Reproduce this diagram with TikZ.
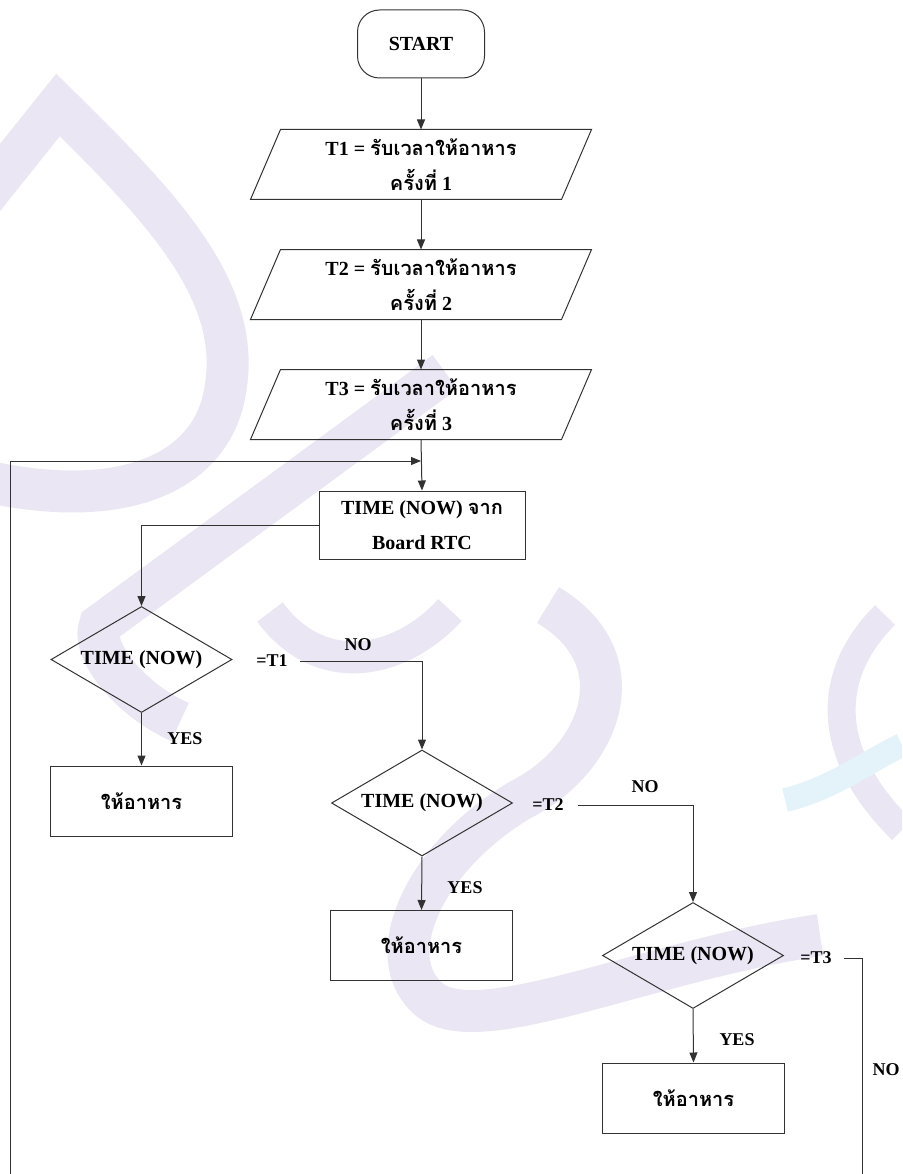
\documentclass[tikz,border=0pt]{standalone}
\usepackage{fontspec}
\setmainfont{Liberation Serif}
\newfontfamily\thai[Script=Thai]{Loma}
\usetikzlibrary{shapes.geometric,arrows.meta}
\definecolor{wmark}{RGB}{234,230,243}
\definecolor{wblue}{RGB}{228,243,250}
\definecolor{ink}{RGB}{50,50,50}
\begin{document}
\begin{tikzpicture}[x=1pt,y=-1pt,
  ln/.style={draw=ink, line width=1pt},
  base/.style={ln, align=center, inner sep=0pt, text=black, font=\bfseries\fontsize{20}{35}\selectfont},
  term/.style={base, rounded corners=22pt, minimum width=127pt, minimum height=68pt},
  iobox/.style={base, draw=none, minimum width=340pt, minimum height=69pt},
  proc/.style={base, rectangle, minimum width=182pt, minimum height=70pt},
  dec/.style={base, diamond, shape aspect=1.7, minimum width=181pt, minimum height=106pt},
  conn/.style={ln, -{Triangle[length=10pt,width=8pt]}},
  lbl/.style={font=\bfseries\fontsize{18}{20}\selectfont, inner sep=0pt},
  wm/.style={draw=wmark, line width=42pt, line cap=butt}
]
\useasboundingbox (0,0) rectangle (902,1174);
\begin{scope}
\clip (0,0) rectangle (902,1174);
% watermark (approximate)
\draw[wm, line join=miter] (-30,215) -- (58,105) .. controls (170,215) and (250,300) .. (222,405) .. controls (200,480) and (110,510) .. (-20,480);
\draw[wm] (445,372) -- (100,625) .. controls (90,650) and (130,700) .. (180,722);
\draw[wm, line width=32pt] (270,612) .. controls (320,680) and (400,665) .. (450,610);
\draw[wm] (548,605) .. controls (640,660) and (600,760) .. (520,800) .. controls (420,860) and (380,960) .. (430,1000) .. controls (480,1040) and (650,960) .. (820,935);
\draw[wm, line width=28pt] (885,615) .. controls (820,680) and (830,760) .. (902,830);
\draw[draw=wblue, line width=24pt] (785,800) .. controls (830,790) and (870,760) .. (902,745);
\end{scope}

% nodes
\node[term] (start) at (421,44) {START};
\node[iobox] (p1) at (421,164.5) {T1 = {\thai รับเวลาให้อาหาร}\\{\thai ครั้งที่} 1};
\node[iobox] (p2) at (421,284.5) {T2 = {\thai รับเวลาให้อาหาร}\\{\thai ครั้งที่} 2};
\node[iobox] (p3) at (421,404.5) {T3 = {\thai รับเวลาให้อาหาร}\\{\thai ครั้งที่} 3};
\foreach \n in {p1,p2,p3}
  \draw[ln] (\n.south west) -- ([xshift=30pt]\n.north west) -- (\n.north east) -- ([xshift=-30pt]\n.south east) -- cycle;
\node[proc, minimum width=206pt, minimum height=68pt] (tb) at (422,525) {TIME (NOW) {\thai จาก}\\Board RTC};
\node[dec] (d1) at (141.5,659.5) {TIME (NOW)};
\node[proc] (r1) at (141.5,801) {\thai ให้อาหาร};
\node[dec] (d2) at (422,803) {TIME (NOW)};
\node[proc] (r2) at (421.5,945.5) {\thai ให้อาหาร};
\node[dec] (d3) at (693,955.5) {TIME (NOW)};
\node[proc] (r3) at (693.5,1098) {\thai ให้อาหาร};

% labels
\node[lbl] (e1) at (272,661) {=T1};
\node[lbl] (n1) at (358,645) {NO};
\node[lbl] (y1) at (185,739) {YES};
\node[lbl] (e2) at (548,805) {=T2};
\node[lbl] (n2) at (645,787) {NO};
\node[lbl] (y2) at (465,888) {YES};
\node[lbl] (e3) at (816,958) {=T3};
\node[lbl] (n3) at (886,1070) {NO};
\node[lbl] (y3) at (737,1040) {YES};

% connectors
\coordinate (j) at (421,461);
\coordinate (lb) at (10,1174);
\coordinate (rb) at (862,1174);
\draw[conn] (start.south) -- (p1.north);
\draw[conn] (p1.south) -- (p2.north);
\draw[conn] (p2.south) -- (p3.north);
\draw[conn] (p3.south) -- (tb.north);
\draw[conn] (lb) |- (j);
\draw[conn] (tb.west) -| (d1.north);
\draw[conn] (d1.south) -- (r1.north);
\draw[conn] ([xshift=12pt]e1.east) -| (d2.north);
\draw[conn] (d2.south) -- (r2.north);
\draw[conn] ([xshift=14pt]e2.east) -| (d3.north);
\draw[conn] (d3.south) -- (r3.north);
\draw[ln] ([xshift=12pt]e3.east) -| (rb);
\end{tikzpicture}
\end{document}
